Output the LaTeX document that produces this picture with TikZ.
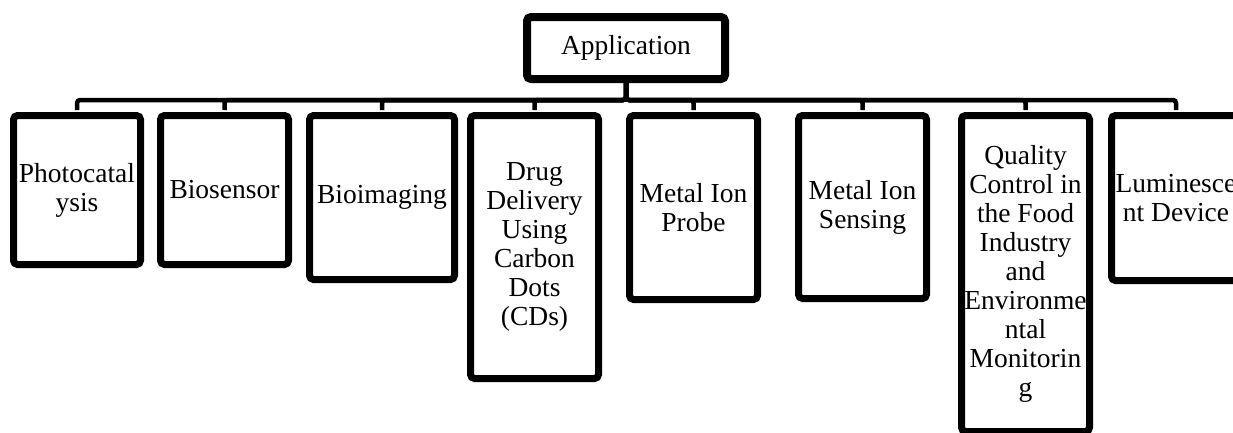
\documentclass[tikz,border=0pt]{standalone}
\usepackage{fontspec}
\setmainfont{Liberation Serif}
\usetikzlibrary{shadows}
\begin{document}
\begin{tikzpicture}[x=1pt,y=-1pt,
  box/.style={draw=black, line width=7pt, fill=white, rounded corners=4pt,
    inner sep=0pt, align=center,
    font=\fontsize{27.5}{29}\selectfont,
    drop shadow={shadow xshift=1.5pt, shadow yshift=-3pt, opacity=0.3, fill=black}},
  conn/.style={draw=black, line width=4.5pt, rounded corners=3pt}]
\useasboundingbox (0,0) rectangle (1233,432);
\clip (0,0) rectangle (1233,432);
% root
\node[box, line width=8pt, minimum width=198pt, minimum height=62pt] (root) at (626,48) {Application};
% children
\node[box, minimum width=127pt, minimum height=149pt] (b1) at (77,190) {Photocatal\\ysis};
\node[box, minimum width=128pt, minimum height=149pt] (b2) at (224.5,190) {Biosensor};
\node[box, minimum width=145pt, minimum height=164pt] (b3) at (382,197.5) {Bioimaging};
\node[box, minimum width=128pt, minimum height=263pt] (b4) at (534.5,247) {Drug\\Delivery\\Using\\Carbon\\Dots\\(CDs)};
\node[box, minimum width=128pt, minimum height=184pt] (b5) at (693.5,207.5) {Metal Ion\\Probe};
\node[box, minimum width=128pt, minimum height=183pt] (b6) at (862.5,207) {Metal Ion\\Sensing};
\node[box, minimum width=128pt, minimum height=316pt] (b7) at (1025.5,273.5) {Quality\\Control in\\the Food\\Industry\\and\\Environme\\ntal\\Monitorin\\g};
\node[box, minimum width=129pt, minimum height=165pt] (b8) at (1176,198) {Luminesce\\nt Device};
% bus level
\coordinate (bus) at (626,100);
\begin{scope}[on background layer/.try]
\foreach \k in {1,...,8}{
  \draw[conn] (root.south) -- (root.south |- bus) -| ([yshift=2pt]b\k.north);
}
\end{scope}
% redraw boxes above connectors (connectors stop at box top)
\end{tikzpicture}
\end{document}
